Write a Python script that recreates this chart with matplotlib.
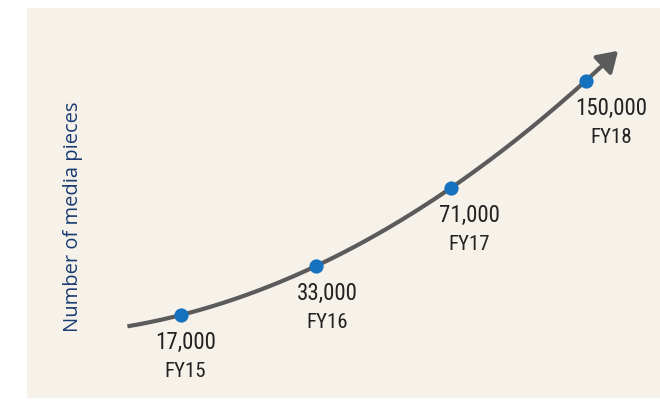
import numpy as np
import matplotlib
matplotlib.use('Agg')
import matplotlib.pyplot as plt
from matplotlib import font_manager

# Data
years = ['FY15', 'FY16', 'FY17', 'FY18']
year_num = [15, 16, 17, 18]
media_pieces = [17000, 33000, 71000, 150000]

bg = '#f6f2ea'
line_col = '#5b5b5b'
dot_col = '#1672bf'
label_col = '#1a3c72'

# pick a narrow font if one is installed
names = {f.name for f in font_manager.fontManager.ttflist}
narrow = [n for n in ['Liberation Sans Narrow', 'Roboto Condensed', 'Open Sans Condensed',
                      'DejaVu Sans Condensed'] if n in names]
font = narrow[:1] + ['DejaVu Sans']
stretch = 'normal' if narrow else 'condensed'

fig = plt.figure(figsize=(6.6, 4.0), dpi=100, facecolor='white')
ax = fig.add_axes([27 / 660, 2 / 400, 633 / 660, 390 / 400])
ax.set_facecolor(bg)
for s in ax.spines.values():
    s.set_visible(False)

# schematic growth axis: power scale
p = 0.45
ax.set_yscale('function', functions=(lambda v: np.abs(v) ** p, lambda t: np.abs(t) ** (1 / p)))
ax.set_ylim(2336, 222600)
ax.set_xlim(13.855, 18.551)
ax.set_xticks([])
ax.set_yticks([])

# smooth trend curve through the points (fit in transformed space)
t = np.array(media_pieces, dtype=float) ** p
coef = np.polyfit(year_num, t, 2)
xs = np.linspace(14.6, 18.1, 200)
ys = np.polyval(coef, xs) ** (1 / p)
ax.plot(xs, ys, color=line_col, lw=3, solid_capstyle='butt', zorder=2)

# arrow head at the end
x_end = 18.24
ax.annotate('', xy=(x_end, np.polyval(coef, x_end) ** (1 / p)),
            xytext=(xs[-1], ys[-1]),
            arrowprops=dict(arrowstyle='-|>,head_length=0.55,head_width=0.35',
                            color=line_col, lw=3, mutation_scale=22,
                            shrinkA=0, shrinkB=0),
            zorder=2)

ax.scatter(year_num, media_pieces, s=105, color=dot_col, zorder=3, linewidths=0)

for i, (x, v, yr) in enumerate(zip(year_num, media_pieces, years)):
    dx = 3 + 5 * i
    ax.annotate(f'{v:,}', (x, v), xytext=(dx, -20), textcoords='offset points',
                ha='center', va='center', fontsize=16.5, color='#222222',
                family=font, fontstretch=stretch)
    ax.annotate(yr, (x, v), xytext=(dx, -40.5), textcoords='offset points',
                ha='center', va='center', fontsize=15, color='#222222',
                family=font, fontstretch=stretch)

ax.text(46 / 633, (398 - 217) / 390, 'Number of media pieces',
        transform=ax.transAxes, rotation=90, ha='center', va='center',
        fontsize=14.5, color=label_col, family=['Open Sans', 'DejaVu Sans'])

fig.savefig('out.png', dpi=100, facecolor='white')
